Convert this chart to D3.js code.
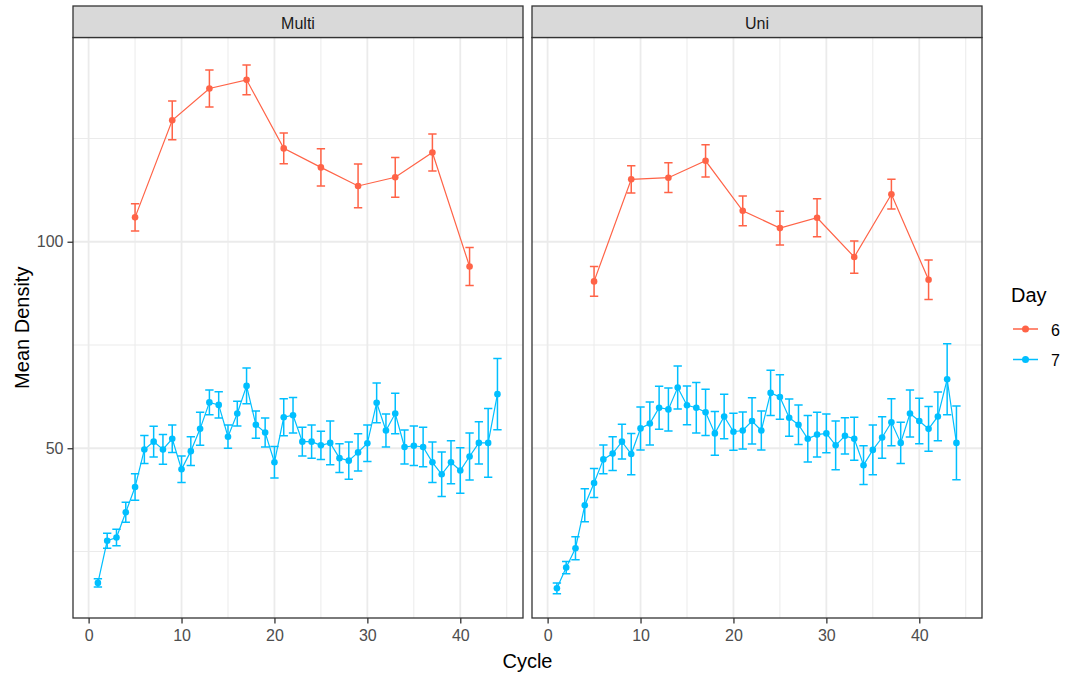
<!DOCTYPE html>
<html>
<head>
<meta charset="utf-8">
<script src="https://cdn.jsdelivr.net/npm/d3@7"></script>
<style>
  body { margin: 0; background: #fff; }
  svg { font-family: Arial, "Liberation Sans", sans-serif; }
</style>
</head>
<body>
<svg id="chart" width="1067" height="675"></svg>
<script>
// facets and series
const facets = ['Multi', 'Uni'];
const days = ['6', '7'];
const dayColors = ['tomato', 'deepskyblue'];

const cyclesDay6 = [5, 9, 13, 17, 21, 25, 29, 33, 37, 41];
const cyclesDay7 = [1, 2, 3, 4, 5, 6, 7, 8, 9, 10, 11, 12, 13, 14, 15, 16, 17, 18, 19, 20, 21, 22,
  23, 24, 25, 26, 27, 28, 29, 30, 31, 32, 33, 34, 35, 36, 37, 38, 39, 40, 41, 42, 43, 44];

const multiDay6Mean = [105.9, 129.4, 137.1, 139.2, 122.6, 118.0, 113.5, 115.6, 121.6, 94.0];
const multiDay6Err  = [3.3, 4.7, 4.5, 3.6, 3.7, 4.5, 5.3, 4.8, 4.5, 4.6];
const uniDay6Mean   = [90.4, 115.1, 115.5, 119.6, 107.5, 103.3, 105.8, 96.3, 111.5, 90.8];
const uniDay6Err    = [3.6, 3.3, 3.6, 3.9, 3.6, 4.1, 4.6, 3.9, 3.6, 4.8];

const multiDay7Mean = [17.4, 27.6, 28.4, 34.5, 40.6, 49.7, 51.6, 49.7, 52.3, 44.9, 49.3, 54.7, 61.1, 60.5,
  52.8, 58.4, 65.1, 55.7, 53.8, 46.6, 57.5, 58.0, 51.6, 51.6, 50.7, 51.3, 47.6, 47.0, 49.0, 51.2, 61.0,
  54.3, 58.4, 50.3, 50.6, 50.3, 46.6, 43.7, 46.6, 44.6, 48.0, 51.3, 51.3, 63.1];
const multiDay7Err  = [1.0, 1.8, 2.0, 2.4, 3.2, 3.4, 3.7, 3.6, 3.3, 3.2, 3.5, 4.0, 3.0, 3.2,
  2.8, 3.0, 4.3, 3.3, 3.5, 3.8, 4.5, 4.3, 3.5, 4.0, 3.4, 5.3, 3.5, 4.5, 4.5, 4.4, 4.8,
  4.0, 4.9, 4.1, 4.8, 4.8, 4.9, 5.4, 5.2, 5.5, 5.7, 5.1, 8.3, 8.6];
const uniDay7Mean   = [16.1, 21.1, 25.8, 36.2, 41.6, 47.3, 48.7, 51.6, 48.6, 54.8, 56.0, 59.8, 59.4, 64.7,
  60.4, 59.8, 58.7, 53.6, 57.7, 54.0, 54.3, 56.6, 54.3, 63.4, 62.4, 57.4, 55.7, 52.3, 53.3, 53.6, 50.7,
  53.0, 52.3, 45.9, 49.6, 52.6, 56.3, 51.3, 58.4, 56.6, 54.7, 57.7, 66.7, 51.3];
const uniDay7Err    = [1.3, 1.5, 2.8, 4.0, 3.5, 3.5, 4.1, 4.2, 5.0, 5.2, 5.2, 5.2, 5.2, 5.2,
  4.7, 6.1, 5.6, 5.3, 5.4, 4.5, 4.5, 5.6, 4.7, 5.5, 5.4, 4.5, 4.8, 5.6, 5.4, 4.7, 5.9,
  4.4, 5.2, 4.7, 6.0, 5.0, 5.7, 5.0, 5.7, 5.5, 5.4, 5.9, 8.6, 8.9];

const xTicks = [0, 10, 20, 30, 40];
const xMinor = [5, 15, 25, 35, 45];
const yTicks = [50, 100];
const yMinor = [25, 75, 125];

function rows(cycles, mean, err) {
  return cycles.map((c, i) => ({ cycle: c, mean: mean[i], lo: mean[i] - err[i], hi: mean[i] + err[i] }));
}

const seriesByFacet = {
  Multi: [rows(cyclesDay6, multiDay6Mean, multiDay6Err), rows(cyclesDay7, multiDay7Mean, multiDay7Err)],
  Uni: [rows(cyclesDay6, uniDay6Mean, uniDay6Err), rows(cyclesDay7, uniDay7Mean, uniDay7Err)]
};

// layout
const panelTop = 37.5, panelBottom = 618, stripTop = 6;
const panelLeft = [73, 532], panelW = 450;
const tickFont = 16, titleFont = 20;
const svg = d3.select('#chart');

const y = d3.scaleLinear().domain([8.9, 149.45]).range([panelBottom, panelTop]);

facets.forEach((name, fi) => {
  const x0 = panelLeft[fi];
  const x = d3.scaleLinear().domain([-1.68, 46.75]).range([x0, x0 + panelW]);
  const g = svg.append('g');

  // grid
  g.selectAll('.ymin').data(yMinor).join('line')
    .attr('x1', x0).attr('x2', x0 + panelW)
    .attr('y1', d => y(d)).attr('y2', d => y(d))
    .attr('stroke', '#ebebeb').attr('stroke-width', 1);
  g.selectAll('.xmin').data(xMinor).join('line')
    .attr('x1', d => x(d)).attr('x2', d => x(d))
    .attr('y1', panelTop).attr('y2', panelBottom)
    .attr('stroke', '#ebebeb').attr('stroke-width', 1);
  g.selectAll('.ymaj').data(yTicks).join('line')
    .attr('x1', x0).attr('x2', x0 + panelW)
    .attr('y1', d => y(d)).attr('y2', d => y(d))
    .attr('stroke', '#ebebeb').attr('stroke-width', 1.8);
  g.selectAll('.xmaj').data(xTicks).join('line')
    .attr('x1', d => x(d)).attr('x2', d => x(d))
    .attr('y1', panelTop).attr('y2', panelBottom)
    .attr('stroke', '#ebebeb').attr('stroke-width', 1.8);

  // series
  seriesByFacet[name].forEach((data, si) => {
    const col = dayColors[si];
    const line = d3.line().x(d => x(d.cycle)).y(d => y(d.mean));
    g.append('path').datum(data)
      .attr('d', line).attr('fill', 'none')
      .attr('stroke', col).attr('stroke-width', 1.2);

    const eb = g.append('g').attr('stroke', col).attr('stroke-width', 1.5).attr('fill', 'none');
    eb.selectAll('path').data(data).join('path')
      .attr('d', d => {
        const xl = x(d.cycle - 0.45), xr = x(d.cycle + 0.45), xc = x(d.cycle);
        return `M${xl},${y(d.hi)}H${xr}M${xc},${y(d.hi)}V${y(d.lo)}M${xl},${y(d.lo)}H${xr}`;
      });

    g.selectAll(null).data(data).join('circle')
      .attr('cx', d => x(d.cycle)).attr('cy', d => y(d.mean))
      .attr('r', 3.3).attr('fill', col);
  });

  // panel border
  g.append('rect')
    .attr('x', x0).attr('y', panelTop).attr('width', panelW).attr('height', panelBottom - panelTop)
    .attr('fill', 'none').attr('stroke', '#333').attr('stroke-width', 1.3);

  // strip
  g.append('rect')
    .attr('x', x0).attr('y', stripTop).attr('width', panelW).attr('height', panelTop - stripTop)
    .attr('fill', '#d9d9d9').attr('stroke', '#333').attr('stroke-width', 1.3);
  g.append('text')
    .attr('x', x0 + panelW / 2).attr('y', 29)
    .attr('text-anchor', 'middle').attr('font-size', tickFont).attr('fill', '#1a1a1a')
    .text(name);

  // x axis
  const xAxis = d3.axisBottom(x).tickValues(xTicks).tickSize(5.5).tickPadding(6);
  const ax = g.append('g').attr('transform', `translate(0,${panelBottom})`).call(xAxis);
  ax.select('.domain').remove();
  ax.selectAll('line').attr('stroke', '#333').attr('stroke-width', 1.3);
  ax.selectAll('text').attr('font-size', tickFont).attr('fill', '#4d4d4d')
    .attr('font-family', 'Arial, "Liberation Sans", sans-serif');

  if (fi === 0) {
    const yAxis = d3.axisLeft(y).tickValues(yTicks).tickSize(5.5).tickPadding(4);
    const ay = g.append('g').attr('transform', `translate(${x0},0)`).call(yAxis);
    ay.select('.domain').remove();
    ay.selectAll('line').attr('stroke', '#333').attr('stroke-width', 1.3);
    ay.selectAll('text').attr('font-size', tickFont).attr('fill', '#4d4d4d')
      .attr('font-family', 'Arial, "Liberation Sans", sans-serif');
  }
});

// axis titles
svg.append('text')
  .attr('x', (panelLeft[0] + panelLeft[1] + panelW) / 2).attr('y', 667.5)
  .attr('text-anchor', 'middle').attr('font-size', titleFont).attr('fill', '#000')
  .text('Cycle');
svg.append('text')
  .attr('transform', `translate(28.5,${(panelTop + panelBottom) / 2}) rotate(-90)`)
  .attr('text-anchor', 'middle').attr('font-size', titleFont).attr('fill', '#000')
  .text('Mean Density');

// legend
const legend = svg.append('g');
legend.append('text').attr('x', 1011).attr('y', 301.5).attr('font-size', titleFont).text('Day');
days.forEach((d, i) => {
  const ly = 329 + i * 30.5;
  legend.append('line').attr('x1', 1013).attr('x2', 1038).attr('y1', ly).attr('y2', ly)
    .attr('stroke', dayColors[i]).attr('stroke-width', 1.5);
  legend.append('circle').attr('cx', 1025.5).attr('cy', ly).attr('r', 3.5).attr('fill', dayColors[i]);
  legend.append('text').attr('x', 1051).attr('y', ly + 6.5).attr('font-size', tickFont).attr('fill', '#000').text(d);
});
</script>
</body>
</html>
